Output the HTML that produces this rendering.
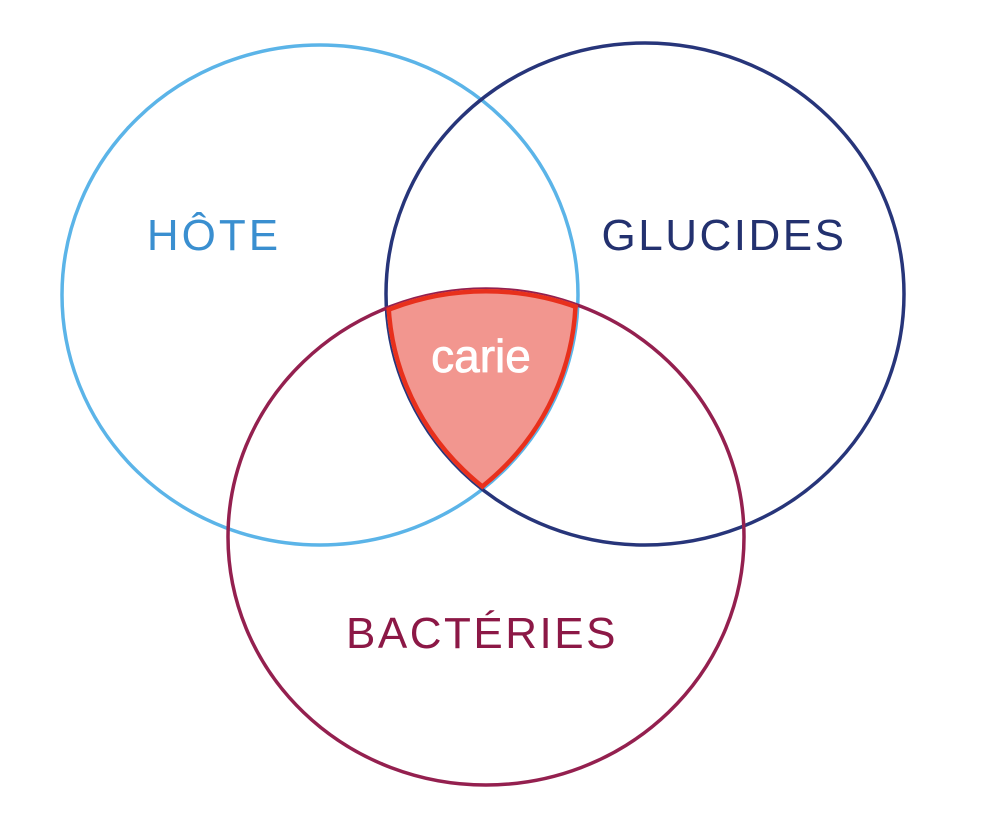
<!DOCTYPE html>
<html>
<head>
<meta charset="utf-8">
<style>
  html, body { margin: 0; padding: 0; background: #fff; }
  svg { display: block; }
</style>
</head>
<body>
<svg width="1000" height="825" viewBox="0 0 1000 825" xmlns="http://www.w3.org/2000/svg">
  <defs>
    <clipPath id="cA"><ellipse cx="320" cy="295" rx="258" ry="250"/></clipPath>
    <clipPath id="cB"><ellipse cx="645" cy="294" rx="259" ry="251"/></clipPath>
    <clipPath id="cC"><ellipse cx="486" cy="537" rx="258" ry="248"/></clipPath>
  </defs>

  <ellipse cx="320" cy="295" rx="258" ry="250" fill="none" stroke="#5bb4e8" stroke-width="3.5"/>
  <ellipse cx="645" cy="294" rx="259" ry="251" fill="none" stroke="#27357a" stroke-width="3.5"/>
  <ellipse cx="486" cy="537" rx="258" ry="248" fill="none" stroke="#94204f" stroke-width="3.5"/>

  <g clip-path="url(#cA)">
    <g clip-path="url(#cB)">
      <g clip-path="url(#cC)">
        <rect x="0" y="0" width="1000" height="825" fill="#f2968f"/>
        <ellipse cx="486" cy="537" rx="258" ry="248" fill="none" stroke="#e8301c" stroke-width="9"/>
        <ellipse cx="320" cy="295" rx="258" ry="250" fill="none" stroke="#e8301c" stroke-width="9"/>
        <ellipse cx="645" cy="294" rx="259" ry="251" fill="none" stroke="#e8301c" stroke-width="9"/>
      </g>
    </g>
  </g>

  <text x="214" y="250" text-anchor="middle" font-family="Liberation Sans, sans-serif" font-size="44" letter-spacing="3" fill="#3a8fd0">HÔTE</text>
  <text x="724" y="250" text-anchor="middle" font-family="Liberation Sans, sans-serif" font-size="44" letter-spacing="2.5" fill="#23316f">GLUCIDES</text>
  <text x="482" y="648" text-anchor="middle" font-family="Liberation Sans, sans-serif" font-size="44" letter-spacing="2.5" fill="#8c1846">BACTÉRIES</text>
  <text x="481" y="372" text-anchor="middle" font-family="Liberation Sans, sans-serif" font-size="46" fill="#ffffff" stroke="#ffffff" stroke-width="0.8">carie</text>
</svg>
</body>
</html>
